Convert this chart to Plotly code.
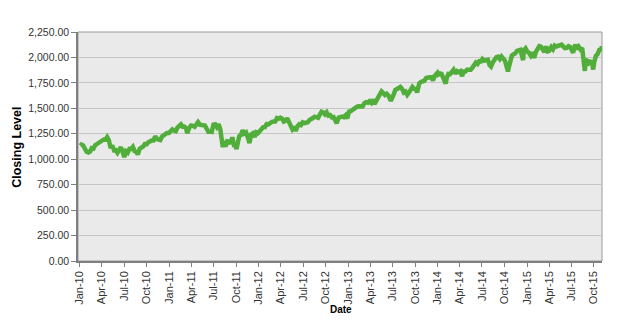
import plotly.graph_objects as go

dates = [
"2010-01-04","2010-01-08","2010-01-15","2010-01-22","2010-01-29","2010-02-05","2010-02-12","2010-02-19","2010-02-26",
"2010-03-05","2010-03-12","2010-03-19","2010-03-26","2010-04-02","2010-04-09","2010-04-16","2010-04-23","2010-04-30",
"2010-05-07","2010-05-14","2010-05-21","2010-05-28","2010-06-04","2010-06-11","2010-06-18","2010-06-25","2010-07-02",
"2010-07-09","2010-07-16","2010-07-23","2010-07-30","2010-08-06","2010-08-13","2010-08-20","2010-08-26","2010-09-03",
"2010-09-10","2010-09-17","2010-09-24","2010-10-01","2010-10-08","2010-10-15","2010-10-22","2010-10-29","2010-11-05",
"2010-11-12","2010-11-19","2010-11-26","2010-12-03","2010-12-10","2010-12-17","2010-12-23","2010-12-31",
"2011-01-07","2011-01-14","2011-01-21","2011-01-28","2011-02-04","2011-02-11","2011-02-18","2011-02-25","2011-03-04",
"2011-03-11","2011-03-16","2011-03-25","2011-04-01","2011-04-08","2011-04-15","2011-04-21","2011-04-29","2011-05-06",
"2011-05-13","2011-05-20","2011-05-27","2011-06-03","2011-06-10","2011-06-17","2011-06-24","2011-07-01","2011-07-08",
"2011-07-15","2011-07-22","2011-07-29","2011-08-05","2011-08-08","2011-08-12","2011-08-19","2011-08-26","2011-09-02",
"2011-09-09","2011-09-16","2011-09-23","2011-09-30","2011-10-03","2011-10-07","2011-10-14","2011-10-21","2011-10-28",
"2011-11-04","2011-11-11","2011-11-18","2011-11-25","2011-12-02","2011-12-09","2011-12-16","2011-12-23","2011-12-30",
"2012-01-06","2012-01-13","2012-01-20","2012-01-27","2012-02-03","2012-02-10","2012-02-17","2012-02-24","2012-03-02",
"2012-03-09","2012-03-16","2012-03-23","2012-03-30","2012-04-06","2012-04-13","2012-04-20","2012-04-27","2012-05-04",
"2012-05-11","2012-05-18","2012-05-25","2012-06-01","2012-06-08","2012-06-15","2012-06-22","2012-06-29","2012-07-06",
"2012-07-13","2012-07-20","2012-07-27","2012-08-03","2012-08-10","2012-08-17","2012-08-24","2012-08-31","2012-09-07",
"2012-09-14","2012-09-21","2012-09-28","2012-10-05","2012-10-12","2012-10-19","2012-10-26","2012-11-02","2012-11-09",
"2012-11-15","2012-11-23","2012-11-30","2012-12-07","2012-12-14","2012-12-21","2012-12-28","2012-12-31",
"2013-01-04","2013-01-11","2013-01-18","2013-01-25","2013-02-01","2013-02-08","2013-02-15","2013-02-22","2013-03-01",
"2013-03-08","2013-03-15","2013-03-22","2013-03-28","2013-04-05","2013-04-12","2013-04-18","2013-04-26","2013-05-03",
"2013-05-10","2013-05-17","2013-05-24","2013-05-31","2013-06-07","2013-06-14","2013-06-24","2013-06-28","2013-07-05",
"2013-07-12","2013-07-19","2013-07-26","2013-08-02","2013-08-09","2013-08-16","2013-08-23","2013-08-30","2013-09-06",
"2013-09-13","2013-09-20","2013-09-27","2013-10-04","2013-10-09","2013-10-18","2013-10-25","2013-11-01","2013-11-08",
"2013-11-15","2013-11-22","2013-11-29","2013-12-06","2013-12-13","2013-12-20","2013-12-27","2013-12-31",
"2014-01-03","2014-01-10","2014-01-17","2014-01-24","2014-02-03","2014-02-07","2014-02-14","2014-02-21","2014-02-28",
"2014-03-07","2014-03-14","2014-03-21","2014-03-28","2014-04-04","2014-04-11","2014-04-17","2014-04-25","2014-05-02",
"2014-05-09","2014-05-16","2014-05-23","2014-05-30","2014-06-06","2014-06-13","2014-06-20","2014-06-27","2014-07-03",
"2014-07-11","2014-07-18","2014-07-25","2014-08-01","2014-08-07","2014-08-15","2014-08-22","2014-08-29","2014-09-05",
"2014-09-12","2014-09-19","2014-09-26","2014-10-03","2014-10-10","2014-10-15","2014-10-17","2014-10-24","2014-10-31",
"2014-11-07","2014-11-14","2014-11-21","2014-11-28","2014-12-05","2014-12-16","2014-12-19","2014-12-26","2014-12-31",
"2015-01-02","2015-01-09","2015-01-16","2015-01-23","2015-01-30","2015-02-06","2015-02-13","2015-02-20","2015-02-27",
"2015-03-06","2015-03-13","2015-03-20","2015-03-27","2015-04-02","2015-04-10","2015-04-17","2015-04-24","2015-05-01",
"2015-05-08","2015-05-15","2015-05-22","2015-05-29","2015-06-05","2015-06-12","2015-06-19","2015-06-26","2015-07-02",
"2015-07-08","2015-07-17","2015-07-24","2015-07-31","2015-08-07","2015-08-14","2015-08-21","2015-08-25","2015-08-28",
"2015-09-04","2015-09-11","2015-09-18","2015-09-25","2015-09-28","2015-10-02","2015-10-09","2015-10-16","2015-10-23",
"2015-10-30","2015-11-03",
]

closing = [
1133,1144,1136,1091,1073,1066,1075,1109,1104,
1138,1150,1159,1167,1178,1194,1192,1217,1187,
1111,1136,1087,1089,1064,1092,1117,1076,1022,
1078,1065,1102,1101,1121,1079,1071,1047,1104,
1110,1125,1149,1146,1166,1176,1183,1183,1225,
1199,1199,1189,1224,1240,1244,1257,1258,
1272,1293,1283,1276,1310,1329,1343,1320,1321,
1304,1257,1313,1332,1328,1319,1337,1364,1340,
1338,1333,1331,1300,1271,1271,1268,1340,1344,
1316,1345,1292,1199,1119,1179,1124,1177,1174,
1154,1216,1136,1131,1099,1155,1225,1238,1285,
1253,1264,1216,1159,1244,1255,1219,1265,1258,
1278,1289,1315,1316,1345,1343,1362,1366,1370,
1371,1404,1397,1408,1398,1370,1378,1403,1369,
1353,1295,1318,1278,1325,1343,1335,1362,1355,
1357,1363,1386,1391,1405,1418,1411,1407,1438,
1466,1460,1441,1461,1428,1433,1411,1414,1380,
1353,1409,1416,1418,1413,1430,1402,1426,
1466,1472,1486,1503,1513,1518,1520,1516,1518,
1551,1561,1556,1569,1553,1588,1541,1582,1614,
1633,1667,1650,1631,1643,1626,1573,1606,1632,
1680,1692,1691,1710,1691,1655,1664,1633,1655,
1688,1710,1692,1690,1656,1745,1760,1762,1771,
1798,1805,1806,1805,1775,1818,1841,1848,
1831,1842,1838,1790,1742,1797,1838,1836,1859,
1878,1841,1866,1857,1865,1816,1864,1863,1881,
1878,1878,1900,1924,1950,1936,1963,1961,1985,
1968,1978,1978,1925,1910,1955,1988,2003,2008,
1985,2010,1982,1968,1906,1862,1887,1964,2018,
2032,2039,2064,2068,2075,1973,2071,2089,2059,
2058,2045,2019,2051,1995,2055,2097,2110,2105,
2071,2053,2108,2061,2067,2102,2081,2117,2108,
2116,2123,2126,2107,2092,2094,2110,2102,2077,
2047,2127,2080,2104,2078,2092,1971,1868,1989,
1921,1961,1958,1931,1881,1951,2015,2033,2075,
2079,2109,
]

y_ticks = [0, 250, 500, 750, 1000, 1250, 1500, 1750, 2000, 2250]
x_title = "Date"
y_title = "Closing Level"

FONT = "Liberation Sans, Arial, sans-serif"

fig = go.Figure()
fig.add_trace(go.Scatter(
    x=dates, y=closing, mode="lines",
    line=dict(color="#52AE3A", width=4.5),
    hoverinfo="skip", showlegend=False,
))

fig.update_layout(
    width=628, height=326,
    margin=dict(l=78, r=26, t=32, b=65, autoexpand=False),
    paper_bgcolor="white",
    plot_bgcolor="#EAEAEA",
    font=dict(family=FONT, size=10, color="#333333"),
    xaxis=dict(
        type="date",
        range=["2009-12-25", "2015-11-03"],
        tick0="2010-01-01", dtick="M3",
        tickformat="%b-%y",
        tickangle=-90,
        ticks="outside", ticklen=4, tickcolor="#7F7F7F",
        showline=True, linecolor="#7F7F7F", linewidth=1.5,
        showgrid=False, zeroline=False, automargin=False,
        tickfont=dict(family=FONT, size=11, color="#333333"),
    ),
    yaxis=dict(
        range=[0, 2250],
        tickvals=y_ticks,
        tickformat=",.2f",
        ticks="outside", ticklen=5, tickcolor="#7F7F7F",
        showline=True, linecolor="#7F7F7F", linewidth=1.5,
        showgrid=True, gridcolor="#C6C6C6", gridwidth=1,
        zeroline=False, automargin=False,
        tickfont=dict(family=FONT, size=10.5, color="#333333"),
    ),
    shapes=[dict(type="rect", xref="x domain", yref="y domain", x0=0, x1=1, y0=0, y1=1,
                 line=dict(color="#9A9A9A", width=1), layer="below")],
    annotations=[
        dict(text="<b>" + x_title + "</b>", xref="paper", yref="paper", x=0.502, y=-0.213,
             xanchor="center", yanchor="middle", showarrow=False,
             font=dict(family=FONT, size=10, color="black")),
        dict(text="<b>" + y_title + "</b>", xref="paper", yref="paper", x=-0.118, y=0.495,
             xanchor="center", yanchor="middle", showarrow=False, textangle=-90,
             font=dict(family=FONT, size=12.5, color="black")),
    ],
)

fig.write_html("out.html")
